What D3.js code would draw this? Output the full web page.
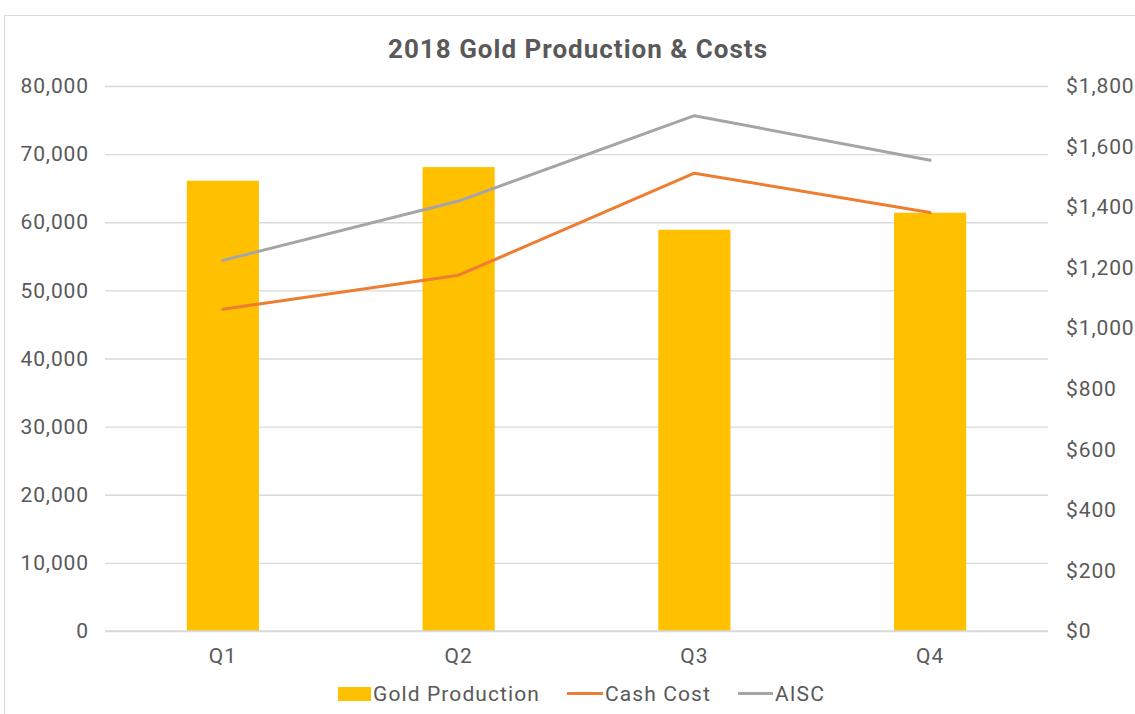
<!DOCTYPE html>
<html><head><meta charset="utf-8">
<script src="https://cdn.jsdelivr.net/npm/d3@7"></script>
<style>body{margin:0;background:#fff}svg{display:block}text{font-family:Roboto,"Noto Sans",sans-serif}</style>
</head><body><svg id="c" width="1135" height="714"></svg>
<script>
const categories = ["Q1","Q2","Q3","Q4"];
const goldProduction = [66100, 68100, 58900, 61400];
const cashCost = [1063, 1175, 1512, 1382];
const aisc = [1224, 1420, 1702, 1555];
const leftTicks = [0,10000,20000,30000,40000,50000,60000,70000,80000];
const rightTicks = [0,200,400,600,800,1000,1200,1400,1600,1800];
const title = "2018 Gold Production & Costs";
const seriesNames = ["Gold Production","Cash Cost","AISC"];
const colors = {gold:"#FFC000", cash:"#ED7D31", aisc:"#A5A5A5", text:"#595959", grid:"#D9D9D9"};

const svg = d3.select("#c");
svg.append("rect").attr("x",4.5).attr("y",15.5).attr("width",1300).attr("height",900)
  .attr("fill","#fff").attr("stroke","#D9D9D9").attr("stroke-width",1);

const L=105,R=1048,T=86,B=631;
const x = d3.scaleBand().domain(categories).range([L,R]).paddingInner(0.694).paddingOuter(0.347);
const yL = d3.scaleLinear().domain([0,80000]).range([B,T]);
const yR = d3.scaleLinear().domain([0,1800]).range([B,T]);

svg.append("text").attr("x",578).attr("y",58).attr("text-anchor","middle")
  .attr("font-size",26).attr("letter-spacing",1).attr("font-weight","bold").attr("fill",colors.text).text(title);

const gAxL = svg.append("g").attr("transform",`translate(${L},0)`)
  .call(d3.axisLeft(yL).tickValues(leftTicks).tickSize(-(R-L)).tickPadding(16).tickFormat(d3.format(",")));
gAxL.select(".domain").remove();
gAxL.selectAll("line").attr("stroke",colors.grid).attr("stroke-width",1.3);
gAxL.selectAll("text").attr("font-size",21).attr("letter-spacing",0.9).attr("fill",colors.text).attr("font-family","Roboto");

const gAxR = svg.append("g").attr("transform",`translate(${R},0)`)
  .call(d3.axisRight(yR).tickValues(rightTicks).tickSize(0).tickPadding(18).tickFormat(d=>"$"+d3.format(",")(d)));
gAxR.select(".domain").remove();
gAxR.selectAll("text").attr("font-size",21).attr("letter-spacing",0.9).attr("fill",colors.text).attr("font-family","Roboto");

const gAxX = svg.append("g").attr("transform",`translate(0,${B})`)
  .call(d3.axisBottom(x).tickSize(0).tickPadding(17));
gAxX.select(".domain").remove();
gAxX.selectAll("text").attr("font-size",21).attr("letter-spacing",0.9).attr("fill",colors.text).attr("font-family","Roboto");

svg.append("g").selectAll("rect").data(goldProduction).join("rect")
  .attr("x",(d,i)=>x(categories[i])).attr("width",x.bandwidth())
  .attr("y",d=>yL(d)).attr("height",d=>B-yL(d)).attr("fill",colors.gold);

svg.append("line").attr("x1",L).attr("x2",R).attr("y1",B).attr("y2",B).attr("stroke",colors.grid).attr("stroke-width",1.3);

const line = d3.line().x((d,i)=>x(categories[i])+x.bandwidth()/2).y(d=>yR(d));
svg.append("path").datum(cashCost).attr("d",line).attr("fill","none").attr("stroke",colors.cash).attr("stroke-width",3).attr("stroke-linejoin","round").attr("stroke-linecap","round");
svg.append("path").datum(aisc).attr("d",line).attr("fill","none").attr("stroke",colors.aisc).attr("stroke-width",3).attr("stroke-linejoin","round").attr("stroke-linecap","round");

const lg = svg.append("g").attr("font-size",21).attr("letter-spacing",1.1).attr("fill",colors.text);
lg.append("rect").attr("x",338).attr("y",687).attr("width",33).attr("height",14).attr("fill",colors.gold);
lg.append("text").attr("x",373).attr("y",701).text(seriesNames[0]);
lg.append("line").attr("x1",567).attr("x2",603).attr("y1",693.5).attr("y2",693.5).attr("stroke",colors.cash).attr("stroke-width",3);
lg.append("text").attr("x",605).attr("y",701).text(seriesNames[1]);
lg.append("line").attr("x1",738).attr("x2",773).attr("y1",693.5).attr("y2",693.5).attr("stroke",colors.aisc).attr("stroke-width",3);
lg.append("text").attr("x",775).attr("y",701).text(seriesNames[2]);
</script></body></html>
